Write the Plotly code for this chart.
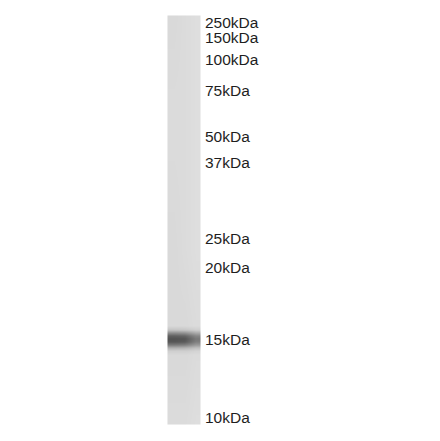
import plotly.graph_objects as go

# marker ladder (label, migration position in image px from top)
marker_labels = ["250kDa", "150kDa", "100kDa", "75kDa", "50kDa",
                 "37kDa", "25kDa", "20kDa", "15kDa", "10kDa"]
marker_pos = [22.5, 37.5, 59, 90, 136, 162, 238, 267, 339, 417]

# lane density profile along the lane (0 = white, 1 = black)
# three columns across the lane: left, middle, right
profile_pos = [16, 17, 120, 250, 325, 329, 332, 335, 338, 341, 344, 347, 350, 354, 423, 424]
density_left = [0.15, 0.15, 0.14, 0.15, 0.15, 0.23, 0.44, 0.62, 0.68, 0.66, 0.52, 0.31, 0.19, 0.15, 0.14, 0.14]
density_mid = [0.14, 0.14, 0.14, 0.14, 0.15, 0.22, 0.42, 0.6, 0.67, 0.64, 0.5, 0.3, 0.19, 0.15, 0.14, 0.14]
density_right = [0.13, 0.13, 0.13, 0.13, 0.14, 0.19, 0.33, 0.47, 0.53, 0.5, 0.4, 0.25, 0.17, 0.14, 0.13, 0.13]
lane_cols = [173, 184, 195]

fig = go.Figure()

fig.add_trace(go.Heatmap(
    x=lane_cols,
    y=profile_pos,
    z=[list(r) for r in zip(density_left, density_mid, density_right)],
    zmin=0, zmax=1,
    colorscale=[[0, "rgb(255,255,255)"], [1, "rgb(0,0,0)"]],
    zsmooth="best",
    showscale=False,
    hoverinfo="skip",
))

for lab, pos in zip(marker_labels, marker_pos):
    fig.add_annotation(x=203, y=pos, text=lab, showarrow=False,
                       xanchor="left", yanchor="middle",
                       font=dict(family="Liberation Sans, Arial", size=15.5, color="#1e1e1e"))

fig.update_layout(
    width=440, height=441,
    margin=dict(l=0, r=0, t=0, b=0),
    paper_bgcolor="white", plot_bgcolor="white",
    xaxis=dict(range=[0, 440], visible=False, fixedrange=True),
    yaxis=dict(range=[441, 0], visible=False, fixedrange=True),
)

# drop the default page margin so the 440x441 figure fills the window
fig.write_html("out.html", config={"displayModeBar": False},
               post_script="document.body.style.margin='0';document.body.style.overflow='hidden';")
